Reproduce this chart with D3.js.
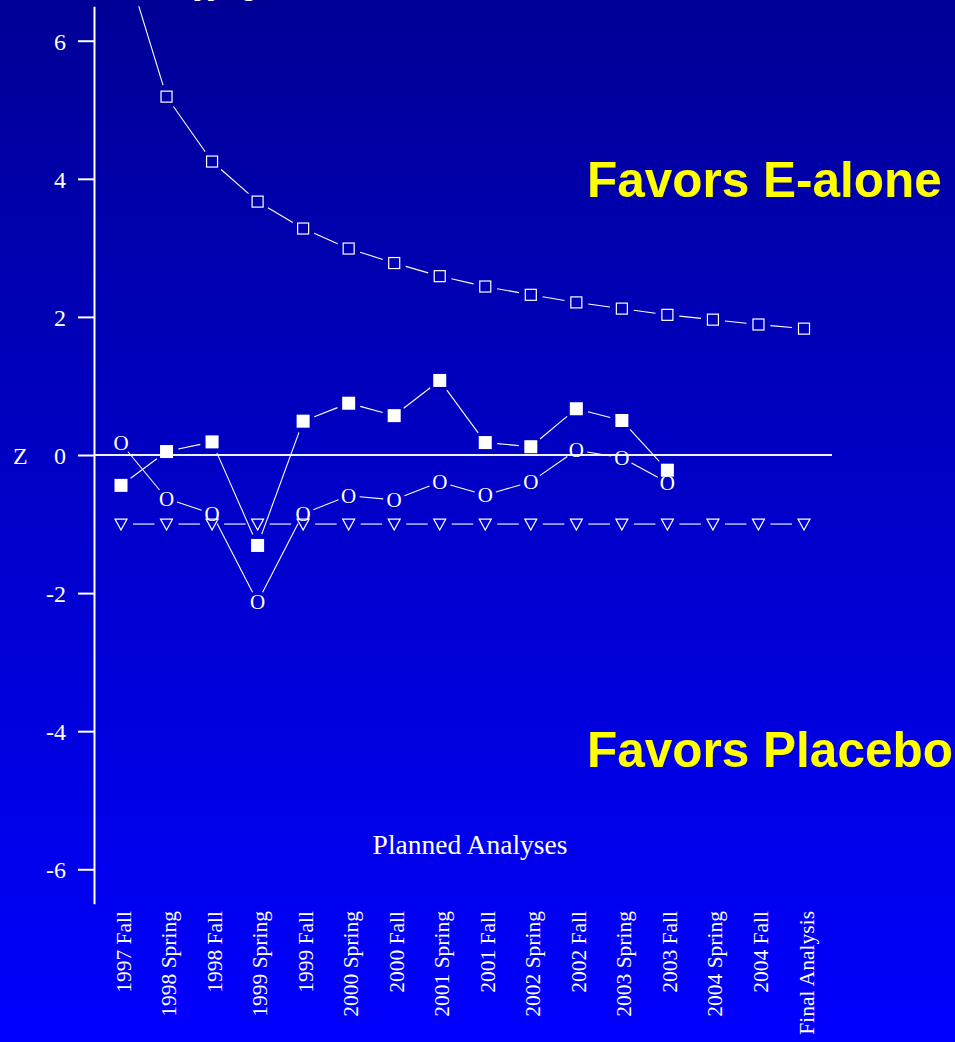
<!DOCTYPE html>
<html>
<head>
<meta charset="utf-8">
<script src="https://cdn.jsdelivr.net/npm/d3@7"></script>
<style>
  html, body { margin: 0; padding: 0; background: #0000ff; }
  svg { display: block; }
</style>
</head>
<body>
<svg id="chart" width="955" height="1042"></svg>
<script>
// Interim analyses (semi-annual looks)
const analyses = [
  "1997 Fall", "1998 Spring", "1998 Fall", "1999 Spring", "1999 Fall",
  "2000 Spring", "2000 Fall", "2001 Spring", "2001 Fall", "2002 Spring",
  "2002 Fall", "2003 Spring", "2003 Fall", "2004 Spring", "2004 Fall",
  "Final Analysis"
];

// Upper (efficacy) stopping boundary, Z scale
const upperBoundary = [7.34, 5.19, 4.25, 3.67, 3.28, 2.99, 2.78, 2.59,
                       2.44, 2.32, 2.21, 2.12, 2.03, 1.96, 1.89, 1.83];

// Lower (futility) boundary
const lowerBoundary = [-1, -1, -1, -1, -1, -1, -1, -1,
                       -1, -1, -1, -1, -1, -1, -1, -1];

// Observed Z statistics, filled squares
const zSquares = [-0.44, 0.05, 0.19, -1.31, 0.49, 0.75, 0.57, 1.08,
                  0.18, 0.12, 0.67, 0.50, -0.22];

// Observed Z statistics, "O" markers
const zCircles = [0.17, -0.63, -0.85, -2.13, -0.85, -0.59, -0.65, -0.39,
                  -0.58, -0.39, 0.07, -0.04, -0.40];

const yTicks = [-6, -4, -2, 0, 2, 4, 6];

const W = 955, H = 1042;
const svg = d3.select("#chart");
const serif = "'Liberation Serif', 'Times New Roman', serif";
const sans = "'Liberation Sans', Arial, sans-serif";

// background gradient
const defs = svg.append("defs");
const grad = defs.append("linearGradient")
  .attr("id", "bg").attr("x1", 0).attr("y1", 0).attr("x2", 0).attr("y2", 1);
grad.append("stop").attr("offset", "0%").attr("stop-color", "#000096");
grad.append("stop").attr("offset", "100%").attr("stop-color", "#0000ff");
svg.append("rect").attr("width", W).attr("height", H).attr("fill", "url(#bg)");

const x = d3.scalePoint().domain(analyses).range([121, 804]);
const y = d3.scaleLinear().domain([-6.5, 6.5]).range([903.8, 6.2]);

defs.append("clipPath").attr("id", "plotclip")
  .append("rect").attr("x", 94).attr("y", y(6.5)).attr("width", 800).attr("height", y(-6.5) - y(6.5));

// top caption (runs off the upper edge)
svg.append("text")
  .attr("x", 158).attr("y", -5)
  .attr("fill", "white").attr("font-family", serif).attr("font-size", 27)
  .text("Stopping");

// y axis
const yAxis = d3.axisLeft(y).tickValues(yTicks).tickSize(16).tickSizeOuter(0).tickPadding(12)
  .tickFormat(d => String(d));
const gy = svg.append("g").attr("transform", "translate(94,0)").call(yAxis);
gy.select(".domain").attr("stroke", "white").attr("stroke-width", 2);
gy.selectAll(".tick line").attr("stroke", "white").attr("stroke-width", 2);
gy.selectAll(".tick text").attr("fill", "white").attr("font-family", serif)
  .attr("font-size", 24).attr("dy", "0.36em");

svg.append("text").attr("x", 13).attr("y", y(0) + 8.5)
  .attr("fill", "white").attr("font-family", serif).attr("font-size", 24).text("Z");

// zero reference line
svg.append("line")
  .attr("x1", 94).attr("x2", 832).attr("y1", y(0)).attr("y2", y(0))
  .attr("stroke", "#f0f0ff").attr("stroke-width", 2);

// x category labels (rotated)
svg.append("g").selectAll("text").data(analyses).join("text")
  .attr("transform", d => `translate(${x(d) + 2},911) rotate(-90)`)
  .attr("text-anchor", "end").attr("dy", "0.35em")
  .attr("fill", "white").attr("font-family", serif).attr("font-size", 21.5)
  .text(d => d);

svg.append("text").attr("x", 470).attr("y", 854).attr("text-anchor", "middle")
  .attr("fill", "white").attr("font-family", serif).attr("font-size", 27.5)
  .text("Planned Analyses");

// "b"-style connectors: segments that stop short of each marker
function gappedSegments(values, gap) {
  const pts = values.map((v, i) => [x(analyses[i]), y(v)]);
  const segs = [];
  for (let i = 0; i < pts.length - 1; i++) {
    const [x0, y0] = pts[i], [x1, y1] = pts[i + 1];
    const len = Math.hypot(x1 - x0, y1 - y0);
    if (len <= 2 * gap) continue;
    const ux = (x1 - x0) / len, uy = (y1 - y0) / len;
    segs.push([x0 + ux * gap, y0 + uy * gap, x1 - ux * gap, y1 - uy * gap]);
  }
  return segs;
}

const plot = svg.append("g").attr("clip-path", "url(#plotclip)");

function drawSegments(values, gap) {
  plot.append("g").selectAll("line").data(gappedSegments(values, gap)).join("line")
    .attr("x1", d => d[0]).attr("y1", d => d[1])
    .attr("x2", d => d[2]).attr("y2", d => d[3])
    .attr("stroke", "white").attr("stroke-width", 1.1);
}

// upper boundary: open squares
drawSegments(upperBoundary, 12);
plot.append("g").selectAll("rect").data(upperBoundary).join("rect")
  .attr("x", (d, i) => x(analyses[i]) - 5.5).attr("y", d => y(d) - 5.5)
  .attr("width", 11).attr("height", 11)
  .attr("fill", "none").attr("stroke", "white").attr("stroke-width", 1.2);

// lower boundary: open down-triangles
drawSegments(lowerBoundary, 12);
plot.append("g").selectAll("path").data(lowerBoundary).join("path")
  .attr("transform", (d, i) => `translate(${x(analyses[i])},${y(d)})`)
  .attr("d", "M-6,-5 L6,-5 L0,6 Z")
  .attr("fill", "none").attr("stroke", "white").attr("stroke-width", 1.2);

// observed Z: "O" markers
drawSegments(zCircles, 11);
plot.append("g").selectAll("text").data(zCircles).join("text")
  .attr("x", (d, i) => x(analyses[i])).attr("y", d => y(d))
  .attr("text-anchor", "middle").attr("dy", "0.34em")
  .attr("fill", "white").attr("font-family", serif).attr("font-size", 21)
  .text("O");

// observed Z: filled squares
drawSegments(zSquares, 12);
plot.append("g").selectAll("rect").data(zSquares).join("rect")
  .attr("x", (d, i) => x(analyses[i]) - 6.5).attr("y", d => y(d) - 6.5)
  .attr("width", 13).attr("height", 13)
  .attr("fill", "white");

// region annotations
svg.append("text").attr("x", 587).attr("y", 197)
  .attr("fill", "#ffff00").attr("font-family", sans).attr("font-weight", "bold")
  .attr("font-size", 49.5).text("Favors E-alone");
svg.append("text").attr("x", 587).attr("y", 767)
  .attr("fill", "#ffff00").attr("font-family", sans).attr("font-weight", "bold")
  .attr("font-size", 49.5).text("Favors Placebo");
</script>
</body>
</html>
